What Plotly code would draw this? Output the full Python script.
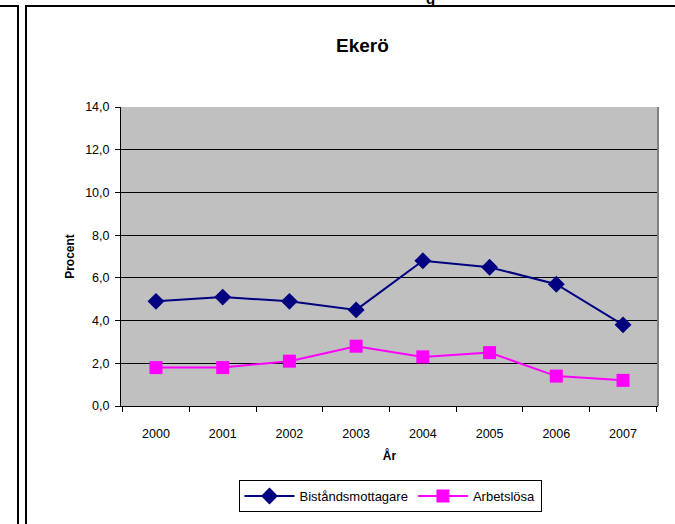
import plotly.graph_objects as go

years = ["2000", "2001", "2002", "2003", "2004", "2005", "2006", "2007"]
bistand = [4.9, 5.1, 4.9, 4.5, 6.8, 6.5, 5.7, 3.8]
arbetslosa = [1.8, 1.8, 2.1, 2.8, 2.3, 2.5, 1.4, 1.2]
y_ticks = [0, 2, 4, 6, 8, 10, 12, 14]

W, H = 675, 524
L, R, T, B = 121, 658, 107, 409

def px(x):
    return (x - L) / (R - L)

def py(y):
    return (B - y) / (B - T)

FONT = "Liberation Sans, Arial, sans-serif"

fig = go.Figure()
fig.add_trace(go.Scatter(
    x=years, y=bistand, name="Biståndsmottagare", mode="lines+markers",
    line=dict(color="#000080", width=2),
    marker=dict(symbol="diamond", size=13, color="#000080"),
))
fig.add_trace(go.Scatter(
    x=years, y=arbetslosa, name="Arbetslösa", mode="lines+markers",
    line=dict(color="#FF00FF", width=2),
    marker=dict(symbol="square", size=13, color="#FF00FF"),
))

fig.update_layout(
    width=W, height=H,
    margin=dict(l=L, r=W - R, t=T, b=H - B, pad=0),
    paper_bgcolor="white",
    plot_bgcolor="#C0C0C0",
    separators=",.",
    font=dict(family=FONT, size=12, color="black"),
    showlegend=True,
    legend=dict(
        orientation="h", x=px(390), xanchor="center", y=py(500), yanchor="middle",
        bordercolor="black", borderwidth=1, bgcolor="white",
        font=dict(size=13, family=FONT), itemwidth=50,
    ),
    xaxis=dict(
        type="category", showgrid=False, showline=True, linecolor="black", linewidth=1,
        ticks="outside", ticklen=5, tickcolor="black", tickson="boundaries",
        ticklabelstandoff=16, tickfont=dict(size=12.5),
        title=dict(text="<b>År</b>", font=dict(size=12), standoff=11),
    ),
    yaxis=dict(
        range=[0, 14], tickvals=y_ticks, tickformat=".1f",
        showgrid=True, gridcolor="black", gridwidth=1, zeroline=False,
        showline=True, linecolor="black", linewidth=1,
        ticks="outside", ticklen=5, tickcolor="black", ticklabelstandoff=3,
        tickfont=dict(size=12.5),
        title=dict(text="<b>Procent</b>", font=dict(size=12), standoff=7),
    ),
    annotations=[
        dict(text="<b>Ekerö</b>", x=px(362), y=py(45), xref="paper", yref="paper",
             xanchor="center", yanchor="middle", showarrow=False,
             font=dict(size=19, family=FONT)),
        dict(text="<b>g</b>", x=px(431), y=py(8), xref="paper", yref="paper",
             xanchor="center", yanchor="bottom", showarrow=False,
             font=dict(size=15, family=FONT)),
    ],
    shapes=[
        dict(type="line", xref="paper", yref="paper", x0=1, x1=1, y0=0, y1=1,
             line=dict(color="#808080", width=2)),
        dict(type="line", xref="paper", yref="paper", x0=px(18), x1=px(18), y0=py(4), y1=py(530),
             line=dict(color="black", width=2)),
        dict(type="line", xref="paper", yref="paper", x0=px(26), x1=px(26), y0=py(4), y1=py(530),
             line=dict(color="black", width=2)),
        dict(type="line", xref="paper", yref="paper", x0=px(-5), x1=px(18), y0=py(5), y1=py(5),
             line=dict(color="black", width=2)),
        dict(type="line", xref="paper", yref="paper", x0=px(26), x1=px(680), y0=py(5), y1=py(5),
             line=dict(color="black", width=2)),
    ],
)

fig.write_html(
    "out.html",
    config={"displayModeBar": False},
    post_script="document.body.style.margin='0';document.body.style.overflow='hidden';",
)
